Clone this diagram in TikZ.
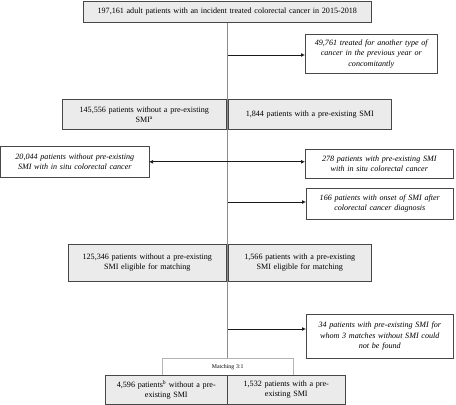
\documentclass[tikz,border=0pt]{standalone}
\usepackage{fontspec}
\setmainfont{Liberation Serif}
\usepackage{tikz}
\usetikzlibrary{arrows.meta, positioning, calc}
\usepackage{xcolor}
\definecolor{boxline}{HTML}{474747}
\definecolor{boxfill}{HTML}{EBEBEB}
\definecolor{trunk}{HTML}{8C8C8C}
\definecolor{arrowcol}{HTML}{1A1A1A}
\definecolor{matchline}{HTML}{B4B4B4}

\begin{document}
\begin{tikzpicture}[x=1pt, y=-1pt,
        stagebox/.style={draw=boxline, fill=boxfill, line width=0.6pt, anchor=north west, align=center, inner sep=2pt, font=\fontsize{8.1}{10}\selectfont},
        exclbox/.style={draw=boxline, fill=white, line width=0.6pt, anchor=north west, align=center, inner sep=2pt, font=\fontsize{8.1}{10.4}\selectfont\itshape},
        matchbox/.style={draw=matchline, fill=white, line width=0.5pt, anchor=north west, align=center, inner sep=1pt, font=\fontsize{5.8}{7}\selectfont},
        arr/.style={-{Latex[length=4pt, width=4pt]}, line width=0.8pt, arrowcol},
        dblarr/.style={{Latex[length=4pt, width=4pt]}-{Latex[length=4pt, width=4pt]}, line width=0.8pt, arrowcol}
    ]
        \useasboundingbox (0,0) rectangle (456,405);

        % COHORT
        \node[stagebox, text width=284pt, minimum height=21.5pt] (cohort) at (83,0.5) {197,161 adult patients with an incident treated colorectal cancer in 2015-2018};
        \node[exclbox, text width=128pt, minimum height=39pt] (othercancer) at (305,34) {49,761 treated for another type of\\cancer in the previous year or\\concomitantly};

        % SMI SPLIT
        \node[stagebox, text width=160pt, minimum height=30pt] (nosmi) at (62,99) {145,556 patients without a pre-existing\\SMI\textsuperscript{a}};
        \node[stagebox, text width=159pt, minimum height=30pt] (smi) at (228,99) {1,844 patients with a pre-existing SMI};

        % IN SITU EXCLUSIONS
        \node[exclbox, text width=144pt, minimum height=31pt] (insitunosmi) at (0.5,146) {20,044 patients without pre-existing\\SMI with in situ colorectal cancer};
        \node[exclbox, text width=144pt, minimum height=29pt] (insitusmi) at (305,149) {278 patients with pre-existing SMI\\with in situ colorectal cancer};
        \node[exclbox, text width=143pt, minimum height=31pt] (lateonset) at (306,188) {166 patients with onset of SMI after\\colorectal cancer diagnosis};

        % ELIGIBLE
        \node[stagebox, text width=154pt, minimum height=37pt] (elignosmi) at (68,244) {125,346 patients without a pre-existing\\SMI eligible for matching};
        \node[stagebox, text width=139pt, minimum height=37pt] (eligsmi) at (228,244) {1,566 patients with a pre-existing\\SMI eligible for matching};
        \node[exclbox, text width=143pt, minimum height=44pt] (nomatch) at (306,314) {34 patients with pre-existing SMI for\\whom 3 matches without SMI could\\not be found};

        % MATCHED
        \node[matchbox, text width=129pt, minimum height=17pt] (matching) at (162,358) {Matching 3:1};
        \node[stagebox, text width=118pt, minimum height=29pt] (matchnosmi) at (105,375) {4,596 patients\textsuperscript{b} without a pre-\\existing SMI};
        \node[stagebox, text width=114pt, minimum height=29pt] (matchsmi) at (227,375) {1,532 patients with a pre-\\existing SMI};

        % CONNECTORS
        \draw[trunk, line width=0.6pt] (cohort.south) -- (cohort.south |- matching.north);
        \coordinate (cut1) at (228,55);
        \coordinate (cut2) at (228,202);
        \coordinate (cut3) at (228,329);
        \draw[arr] (cut1) -- (cut1 -| othercancer.west);
        \draw[dblarr] (insitunosmi.east) -- (insitunosmi.east -| insitusmi.west);
        \draw[arr] (cut2) -- (cut2 -| lateonset.west);
        \draw[arr] (cut3) -- (cut3 -| nomatch.west);
    \end{tikzpicture}
\end{document}
